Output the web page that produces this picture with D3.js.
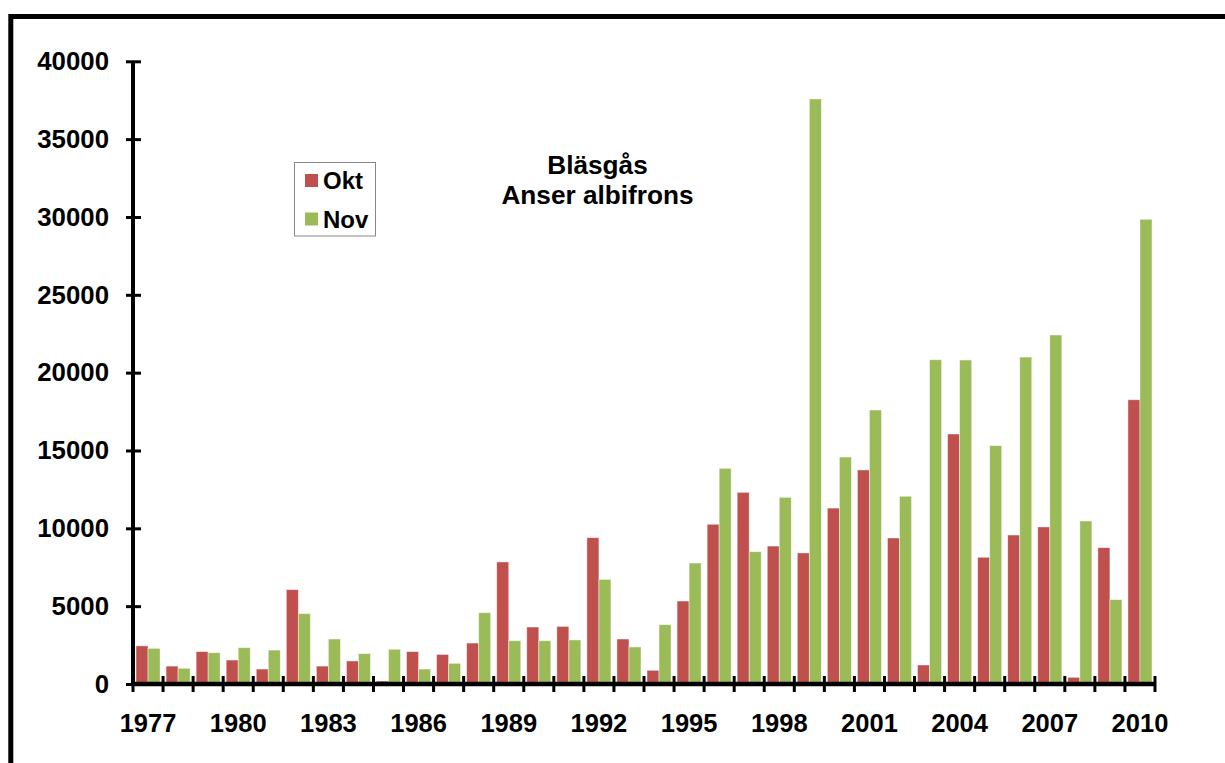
<!DOCTYPE html>
<html>
<head>
<meta charset="utf-8">
<script src="https://cdn.jsdelivr.net/npm/d3@7"></script>
<style>
  html, body { margin: 0; padding: 0; background: #fff; }
  svg { display: block; font-family: "Liberation Sans", Arial, sans-serif; font-weight: bold; }
</style>
</head>
<body>
<svg id="chart" width="1225" height="763"></svg>
<script>
// Yearly counts of White-fronted Goose (Anser albifrons), October and November
const years = [1977,1978,1979,1980,1981,1982,1983,1984,1985,1986,1987,1988,1989,1990,1991,1992,1993,
               1994,1995,1996,1997,1998,1999,2000,2001,2002,2003,2004,2005,2006,2007,2008,2009,2010];
const okt = [2450,1150,2080,1540,960,6060,1150,1480,190,2080,1900,2630,7840,3660,3700,9400,2890,
             880,5330,10260,12310,8860,8420,11300,13750,9380,1220,16060,8140,9570,10090,430,8760,18260];
const nov = [2290,1010,2010,2330,2180,4520,2890,1950,2230,960,1330,4580,2780,2780,2830,6720,2380,
             3810,7770,13850,8500,11990,37580,14580,17600,12060,20830,20810,15310,21000,22420,10470,5420,29850];
const seriesNames = ["Okt", "Nov"];
const seriesColors = ["#C0504D", "#9BBB59"];
const yTicks = [0,5000,10000,15000,20000,25000,30000,35000,40000];
const xLabelYears = [1977,1980,1983,1986,1989,1992,1995,1998,2001,2004,2007,2010];
const titleLines = ["Bläsgås", "Anser albifrons"];

const svg = d3.select("#chart");

// outer frame (runs off the right and bottom edges)
svg.append("rect")
  .attr("x", 10.8).attr("y", 16.5)
  .attr("width", 1400).attr("height", 1000)
  .attr("fill", "none").attr("stroke", "#000").attr("stroke-width", 5);

const plotLeft = 133, plotRight = 1155, plotTop = 61.3, plotBottom = 684;

const x = d3.scaleBand().domain(years).range([plotLeft, plotRight]).padding(0);
const xs = d3.scaleBand().domain(seriesNames).range([0, x.bandwidth()])
  .paddingInner(0).paddingOuter(0.25);
const y = d3.scaleLinear().domain([0, 40000]).range([plotBottom, plotTop]);

const rows = years.map((yr, i) => ({ year: yr, values: [okt[i], nov[i]] }));

// bars
const groups = svg.append("g").selectAll("g")
  .data(rows).join("g")
  .attr("transform", d => `translate(${x(d.year)},0)`);

groups.selectAll("rect")
  .data(d => d.values.map((v, k) => ({ key: seriesNames[k], value: v, color: seriesColors[k] })))
  .join("rect")
  .attr("x", d => xs(d.key))
  .attr("y", d => y(d.value))
  .attr("width", xs.bandwidth())
  .attr("height", d => y(0) - y(d.value))
  .attr("fill", d => d.color)
  .attr("stroke", "#ffffff")
  .attr("stroke-opacity", 0.55)
  .attr("stroke-width", 0.8);

// y axis
const yAxis = d3.axisLeft(y).tickValues(yTicks).tickSize(0).tickPadding(24).tickFormat(d3.format("d"));
const gy = svg.append("g").attr("transform", `translate(${plotLeft},0)`).call(yAxis);
gy.select(".domain").remove();
gy.selectAll("text").attr("font-size", 25.8).attr("font-family", "Liberation Sans, Arial, sans-serif")
  .attr("font-weight", "bold").attr("fill", "#000");
gy.selectAll(".tick").append("line")
  .attr("x1", -7).attr("x2", 8).attr("stroke", "#000").attr("stroke-width", 3);
gy.append("line")
  .attr("x1", 0).attr("x2", 0).attr("y1", y(40000)).attr("y2", y(0))
  .attr("stroke", "#000").attr("stroke-width", 4);

// x axis
const xAxis = d3.axisBottom(x).tickValues(xLabelYears).tickSize(0).tickFormat(d3.format("d"));
const gx = svg.append("g").attr("transform", `translate(0,${plotBottom})`).call(xAxis);
gx.select(".domain").remove();
gx.selectAll("text").attr("font-size", 25.5).attr("font-family", "Liberation Sans, Arial, sans-serif")
  .attr("font-weight", "bold").attr("fill", "#000").attr("y", 47.7).attr("dy", 0);
const boundaries = years.map(yr => x(yr)).concat([x(years[years.length - 1]) + x.bandwidth()]);
gx.selectAll("line.cat-tick").data(boundaries).join("line")
  .attr("class", "cat-tick")
  .attr("x1", d => d).attr("x2", d => d).attr("y1", -8).attr("y2", 8)
  .attr("stroke", "#000").attr("stroke-width", 3);
gx.append("line")
  .attr("x1", plotLeft - 2).attr("x2", plotRight + 1).attr("y1", 0).attr("y2", 0)
  .attr("stroke", "#000").attr("stroke-width", 4.3);

// title
svg.append("g").selectAll("text").data(titleLines).join("text")
  .attr("x", 597.5).attr("y", (d, i) => 174 + i * 30)
  .attr("text-anchor", "middle").attr("font-size", 26.2).attr("fill", "#000")
  .text(d => d);

// legend
const lg = svg.append("g");
lg.append("rect").attr("x", 294.5).attr("y", 162.5).attr("width", 81).attr("height", 73.5)
  .attr("fill", "#fff").attr("stroke", "#888").attr("stroke-width", 1);
const items = lg.selectAll("g.item").data(seriesNames).join("g").attr("class", "item")
  .attr("transform", (d, i) => `translate(305,${174 + i * 38.5})`);
items.append("rect").attr("width", 13).attr("height", 13)
  .attr("fill", (d, i) => seriesColors[i]);
items.append("text").attr("x", 18).attr("y", 15).attr("font-size", 24).attr("fill", "#000")
  .text(d => d);
</script>
</body>
</html>
